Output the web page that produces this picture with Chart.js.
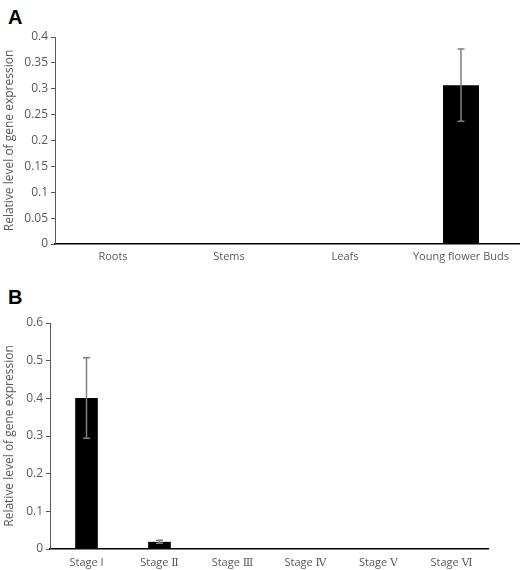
<!DOCTYPE html>
<html>
<head>
<meta charset="utf-8">
<script src="https://cdn.jsdelivr.net/npm/chart.js@4/dist/chart.umd.min.js"></script>
<style>
  body { margin: 0; background: #fff; width: 520px; height: 570px; position: relative; overflow: hidden; }
  .panel { position: absolute; left: 0; width: 520px; }
  .tag { position: absolute; left: 8px; font: bold 20px "Liberation Sans", Arial, sans-serif; color: #000; }
</style>
</head>
<body>
<div class="tag" style="top:6px">A</div>
<div class="tag" style="top:286px">B</div>
<div class="panel" style="top:0;height:272px"><canvas id="chartA"></canvas></div>
<div class="panel" style="top:286px;height:284px"><canvas id="chartB"></canvas></div>
<script>
var tissues = ['Roots', 'Stems', 'Leafs', 'Young flower Buds'];
var tissueVals = [0.0005, 0.0005, 0.0005, 0.307];
var tissueErr = [0, 0, 0, 0.07];
var tissueTicks = [0, 0.05, 0.1, 0.15, 0.2, 0.25, 0.3, 0.35, 0.4];

var stages = ['Stage I', 'Stage \u2161', 'Stage \u2162', 'Stage \u2163', 'Stage \u2164', 'Stage \u2165'];
var stageVals = [0.401, 0.019, 0.001, 0.0008, 0.0008, 0.0008];
var stageErr = [0.107, 0.004, 0, 0, 0, 0];
var stageTicks = [0, 0.1, 0.2, 0.3, 0.4, 0.5, 0.6];

var tickFont = { family: "'Open Sans', 'DejaVu Serif', sans-serif", size: 11 };

// error bars drawn through the chart's own scales
var errorBars = {
    id: 'errorBars',
    afterDatasetsDraw: function(chart, args, opts) {
        const ctx = chart.ctx;
        const meta = chart.getDatasetMeta(0);
        const yScale = chart.scales.y;
        const vals = chart.data.datasets[0].data;
        ctx.save();
        ctx.strokeStyle = '#7f7f7f';
        ctx.lineWidth = 1.5;
        meta.data.forEach(function(bar, i) {
            const e = opts.errs[i];
            if (!e) return;
            const x = bar.x;
            const top = yScale.getPixelForValue(vals[i] + e);
            const bot = yScale.getPixelForValue(vals[i] - e);
            ctx.beginPath();
            ctx.moveTo(x, top); ctx.lineTo(x, bot);
            ctx.moveTo(x - 3.5, top); ctx.lineTo(x + 3.5, top);
            ctx.moveTo(x - 3.5, bot); ctx.lineTo(x + 3.5, bot);
            ctx.stroke();
        });
        ctx.restore();
    }
};

function makeChart(id, labels, vals, errs, ticks, max, yWidth, xHeight, xPad, pad) {
    return new Chart(document.getElementById(id), {
        type: 'bar',
        data: {
            labels: labels,
            datasets: [{
                data: vals,
                backgroundColor: '#000',
                borderWidth: 0,
                categoryPercentage: 1,
                barPercentage: 0.31
            }]
        },
        options: {
            responsive: true,
            maintainAspectRatio: false,
            animation: false,
            layout: { padding: pad },
            plugins: {
                legend: { display: false },
                tooltip: { enabled: false },
                errorBars: { errs: errs }
            },
            scales: {
                x: {
                    grid: { display: false, drawTicks: false },
                    border: { display: true, color: '#000', width: 1.5 },
                    ticks: { color: '#595959', font: tickFont, padding: xPad, maxRotation: 0 },
                    afterFit: function(s) { s.height = xHeight; }
                },
                y: {
                    min: 0,
                    max: max,
                    afterBuildTicks: function(s) { s.ticks = ticks.map(function(v) { return { value: v }; }); },
                    grid: { drawOnChartArea: false, drawTicks: true, tickLength: 4, color: '#595959' },
                    border: { display: true, color: '#595959', width: 1 },
                    ticks: { color: '#595959', font: { family: "'Open Sans', sans-serif", size: 12 }, padding: 3,
                             callback: function(v) { return String(v); } },
                    title: { display: true, text: 'Relative level of gene expression', color: '#595959',
                             font: { family: "'Open Sans', sans-serif", size: 12 }, padding: 2 },
                    afterFit: function(s) { s.width = yWidth; }
                }
            }
        },
        plugins: [errorBars]
    });
}

makeChart('chartA', tissues, tissueVals, tissueErr, tissueTicks, 0.4, 55, 28, 6, { top: 37, right: 1, left: 0, bottom: 0 });
makeChart('chartB', stages, stageVals, stageErr, stageTicks, 0.6, 50, 21, 7, { top: 37, right: 32, left: 0, bottom: 0 });
</script>
</body>
</html>
